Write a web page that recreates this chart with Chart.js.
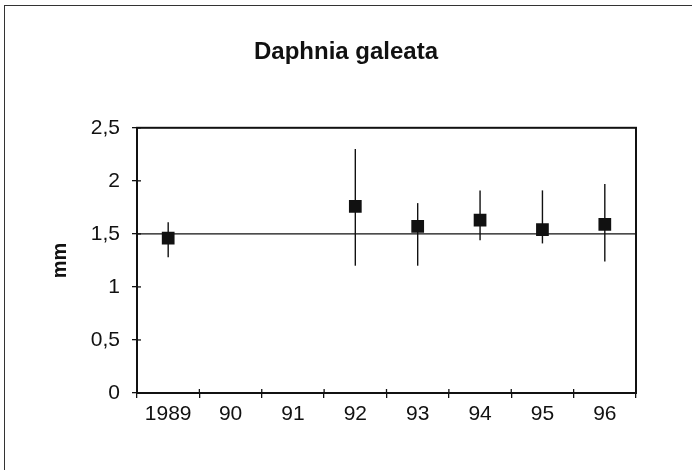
<!DOCTYPE html>
<html>
<head>
<meta charset="utf-8">
<script src="https://cdn.jsdelivr.net/npm/chart.js@4.4.1/dist/chart.umd.min.js"></script>
<style>
  html, body { margin: 0; padding: 0; background: #fff; }
  #wrap { position: relative; width: 692px; height: 470px; overflow: hidden; }
  #frame { position: absolute; left: 4px; top: 5px; width: 720px; height: 500px;
           border-top: 1px solid #333; border-left: 1px solid #333; }
  canvas { position: absolute; left: 0; top: 0; }
</style>
</head>
<body>
<div id="wrap">
  <div id="frame"></div>
  <canvas id="myChart" width="692" height="470"></canvas>
</div>
<script>
// data
let years = ["1989", "90", "91", "92", "93", "94", "95", "96"];
let meanLength = [1.46, null, null, 1.76, 1.57, 1.63, 1.54, 1.59];
let lowBar = [1.28, null, null, 1.20, 1.20, 1.44, 1.41, 1.24];
let highBar = [1.61, null, null, 2.30, 1.79, 1.91, 1.91, 1.97];
let refLine = 1.5;
let yTicks = [0, 0.5, 1, 1.5, 2, 2.5];

const ink = "#111";
const face = "Liberation Sans, Arial, sans-serif";

// error bars, the reference line, the plot box and the inner tick marks
let extras = {
  id: "extras",
  beforeDatasetsDraw(chart) {
    let ctx = chart.ctx;
    let area = chart.chartArea;
    let x = chart.scales.x;
    let y = chart.scales.y;
    ctx.save();
    ctx.strokeStyle = ink;

    // horizontal line at 1,5
    ctx.lineWidth = 1.3;
    ctx.beginPath();
    ctx.moveTo(area.left, y.getPixelForValue(refLine));
    ctx.lineTo(area.right, y.getPixelForValue(refLine));
    ctx.stroke();

    // error bars
    ctx.lineWidth = 1.4;
    years.forEach((yr, i) => {
      if (lowBar[i] === null) return;
      let px = x.getPixelForValue(i);
      ctx.beginPath();
      ctx.moveTo(px, y.getPixelForValue(lowBar[i]));
      ctx.lineTo(px, y.getPixelForValue(highBar[i]));
      ctx.stroke();
    });

    // box round the plot
    ctx.lineWidth = 2;
    ctx.strokeRect(area.left, area.top, area.right - area.left, area.bottom - area.top);

    // tick marks reach a little into the plot
    ctx.lineWidth = 1.3;
    yTicks.forEach((v) => {
      let py = y.getPixelForValue(v);
      ctx.beginPath();
      ctx.moveTo(area.left, py);
      ctx.lineTo(area.left + 4, py);
      ctx.stroke();
    });
    for (let i = 0; i <= years.length; i++) {
      let px = area.left + (area.right - area.left) * i / years.length;
      ctx.beginPath();
      ctx.moveTo(px, area.bottom);
      ctx.lineTo(px, area.bottom - 4);
      ctx.stroke();
    }
    ctx.restore();
  }
};

new Chart(document.getElementById("myChart"), {
  type: "line",
  data: {
    labels: years,
    datasets: [
      {
        data: meanLength,
        showLine: false,
        pointStyle: "rect",
        pointRadius: 9,
        pointHoverRadius: 9,
        pointBackgroundColor: ink,
        pointBorderColor: ink,
        pointBorderWidth: 0,
        yAxisID: "y"
      }
    ]
  },
  options: {
    responsive: false,
    animation: false,
    events: [],
    layout: { padding: 0 },
    plugins: {
      legend: { display: false },
      tooltip: { enabled: false },
      title: {
        display: true,
        text: "Daphnia galeata",
        color: ink,
        font: { family: face, size: 24, weight: "bold", lineHeight: 1.2 },
        padding: { top: 38, bottom: 61 }
      }
    },
    scales: {
      x: {
        type: "category",
        offset: true,
        grid: { offset: true, drawOnChartArea: false, color: ink, lineWidth: 1.3, tickLength: 5 },
        border: { display: true, color: ink, width: 2 },
        ticks: {
          color: ink,
          padding: 4,
          autoSkip: false,
          maxRotation: 0,
          font: { family: face, size: 21 }
        },
        afterFit: (scale) => { scale.height = 77; }
      },
      y: {
        min: 0,
        max: 2.5,
        afterBuildTicks: (scale) => { scale.ticks = yTicks.map((v) => ({ value: v })); },
        grid: { drawOnChartArea: false, color: ink, lineWidth: 1.3, tickLength: 5 },
        border: { display: true, color: ink, width: 2 },
        ticks: {
          color: ink,
          padding: 12,
          font: { family: face, size: 21 },
          callback: (v) => String(v).replace(".", ",")
        },
        title: {
          display: true,
          text: "mm",
          color: ink,
          font: { family: face, size: 20, weight: "bold" },
          padding: { top: 48, bottom: 0 }
        },
        afterFit: (scale) => { scale.width = 137; }
      },
      spacer: {
        position: "right",
        display: true,
        grid: { display: false },
        border: { display: false },
        ticks: { display: false },
        afterFit: (scale) => { scale.width = 56; }
      }
    }
  },
  plugins: [extras]
});
</script>
</body>
</html>
